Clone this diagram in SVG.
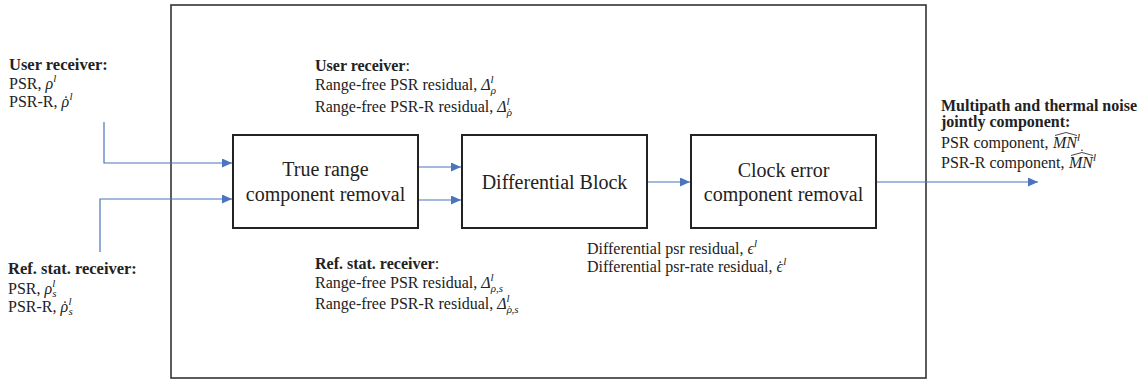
<svg xmlns="http://www.w3.org/2000/svg" width="1148" height="383" viewBox="0 0 1148 383">
<style>
text{font-family:"Liberation Serif","Times New Roman",serif;fill:#222;}
.t{font-size:16px;}
.b{font-size:16.5px;font-weight:bold;}
.box{fill:#fff;stroke:#222;stroke-width:2;}
.lbl{font-size:20px;text-anchor:middle;}
.i{font-style:italic;}
.s{font-size:11px;font-style:italic;}
.c{fill:none;stroke:#4a74c0;stroke-width:1.2;}
.hat{fill:none;stroke:#333;stroke-width:0.9;}
</style>
<defs>
<marker id="ah" markerUnits="userSpaceOnUse" markerWidth="11" markerHeight="9" refX="10" refY="4.5" orient="auto">
<path d="M0,0 L10,4.5 L0,9 z" fill="#4a74c0"/>
</marker>
</defs>
<rect x="171" y="5" width="755" height="373" fill="none" stroke="#333" stroke-width="1.6"/>
<g id="connectors">
<path class="c" d="M104,122 V163 H232" marker-end="url(#ah)"/>
<path class="c" d="M100,252 V199 H232" marker-end="url(#ah)"/>
<path class="c" d="M418,167 H461" marker-end="url(#ah)"/>
<path class="c" d="M418,200 H461" marker-end="url(#ah)"/>
<path class="c" d="M647,182 H690" marker-end="url(#ah)"/>
<path class="c" d="M876,182 H1038" marker-end="url(#ah)"/>
</g>
<g id="true-range">
<rect class="box" x="233" y="135" width="185" height="93"/>
<text class="lbl" x="325.5" y="176">True range</text>
<text class="lbl" x="325.5" y="201">component removal</text>
</g>
<g id="differential">
<rect class="box" x="462" y="135" width="185" height="93"/>
<text class="lbl" x="554.5" y="189">Differential Block</text>
</g>
<g id="clock-error">
<rect class="box" x="691" y="135" width="185" height="93"/>
<text class="lbl" x="783.5" y="177">Clock error</text>
<text class="lbl" x="783.5" y="201">component removal</text>
</g>
<g id="user-input">
<text class="b" x="9" y="70">User receiver:</text>
<text class="t" x="9" y="89">PSR, <tspan class="i">ρ</tspan><tspan class="s" dy="-7">l</tspan></text>
<text class="t" x="9" y="107">PSR-R, <tspan class="i">ρ</tspan><tspan dx="-6">˙</tspan><tspan class="s" dx="1" dy="-7">l</tspan></text>
</g>
<g id="ref-input">
<text class="b" x="8" y="274">Ref. stat. receiver:</text>
<text class="t" x="8" y="294">PSR, <tspan class="i">ρ</tspan><tspan class="s" dy="-7">l</tspan><tspan class="s" dx="-3" dy="10">s</tspan></text>
<text class="t" x="8" y="312">PSR-R, <tspan class="i">ρ</tspan><tspan dx="-6">˙</tspan><tspan class="s" dx="1" dy="-7">l</tspan><tspan class="s" dx="-3" dy="10">s</tspan></text>
</g>
<g id="user-residual">
<text class="b" x="315" y="71" style="font-size:16px">User receiver<tspan font-weight="normal">:</tspan></text>
<text class="t" x="315" y="90">Range-free PSR residual, <tspan class="i">Δ</tspan><tspan class="s" dy="-7">l</tspan><tspan class="s" dx="-3" dy="11">ρ</tspan></text>
<text class="t" x="315" y="112">Range-free PSR-R residual, <tspan class="i">Δ</tspan><tspan class="s" dy="-7">l</tspan><tspan class="s" dx="-3" dy="11">ρ</tspan><tspan font-size="11" dx="-4.5">˙</tspan></text>
</g>
<g id="ref-residual">
<text class="b" x="315" y="269" style="font-size:16px">Ref. stat. receiver<tspan font-weight="normal">:</tspan></text>
<text class="t" x="315" y="288">Range-free PSR residual, <tspan class="i">Δ</tspan><tspan class="s" dy="-7">l</tspan><tspan class="s" dx="-3" dy="11">ρ,s</tspan></text>
<text class="t" x="315" y="309">Range-free PSR-R residual, <tspan class="i">Δ</tspan><tspan class="s" dy="-7">l</tspan><tspan class="s" dx="-3" dy="11">ρ</tspan><tspan font-size="11" dx="-4.5">˙</tspan><tspan class="s" dx="0.5">,s</tspan></text>
</g>
<g id="diff-residual">
<text class="t" x="587" y="254">Differential psr residual, <tspan class="i">ϵ</tspan><tspan class="s" dy="-7">l</tspan></text>
<text class="t" x="587" y="272">Differential psr-rate residual, <tspan class="i">ϵ</tspan><tspan dx="-5.5">˙</tspan><tspan class="s" dx="0.5" dy="-7">l</tspan></text>
</g>
<g id="output">
<text class="b" x="941" y="111" style="font-size:16px">Multipath and thermal noise</text>
<text class="b" x="941" y="127" style="font-size:16px">jointly component:</text>
<text class="t" x="941" y="148">PSR component,</text>
<text class="t" x="1053" y="148"><tspan class="i">MN</tspan><tspan class="s" dy="-7">l</tspan></text>
<path class="hat" d="M1055,135.5 L1066,132.5 L1077,135.5"/>
<text class="t" x="941" y="168">PSR-R component,</text>
<text class="t" x="1069" y="168"><tspan class="i">MN</tspan><tspan class="s" dy="-7">l</tspan></text>
<path class="hat" d="M1071,155.5 L1082,152.5 L1093,155.5"/>
<circle cx="1082" cy="150.3" r="0.8" fill="#333"/>
</g>
</svg>
